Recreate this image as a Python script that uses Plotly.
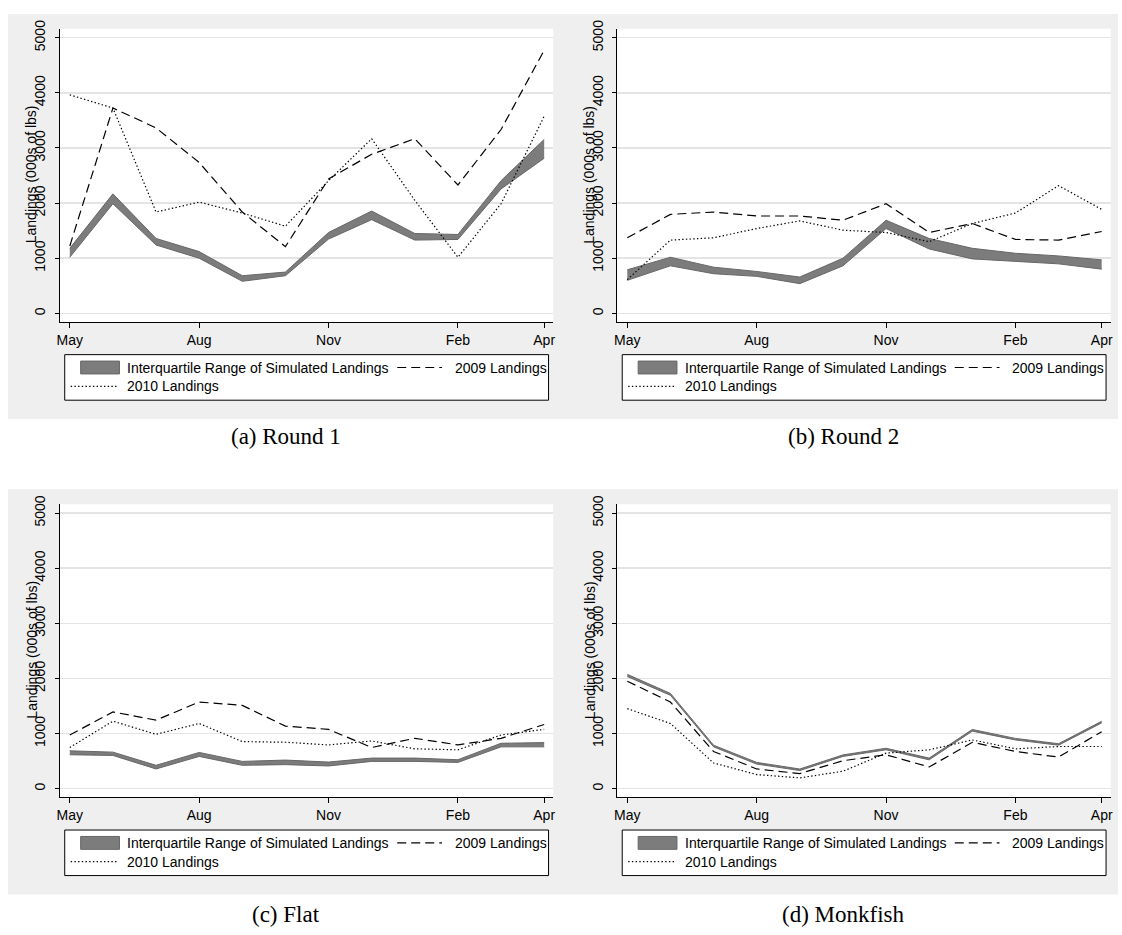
import plotly.graph_objects as go

W, H = 1122, 935

months = ["May", "Jun", "Jul", "Aug", "Sep", "Oct", "Nov", "Dec", "Jan", "Feb", "Mar", "Apr"]
tick_months = ["May", "Aug", "Nov", "Feb", "Apr"]
y_ticks = [0, 1000, 2000, 3000, 4000, 5000]

# (a) Round 1
iqr_hi_a = [1180, 2168, 1359, 1120, 683, 749, 1467, 1856, 1449, 1431, 2407, 3156]
iqr_lo_a = [1018, 1988, 1240, 1000, 581, 683, 1347, 1700, 1329, 1341, 2257, 2814]
l2009_a = [1222, 3725, 3365, 2737, 1838, 1210, 2437, 2886, 3168, 2329, 3335, 4772]
l2010_a = [3964, 3725, 1838, 2018, 1820, 1581, 2407, 3168, 2050, 1018, 1988, 3575]

# (b) Round 2
iqr_hi_b = [790, 1018, 838, 760, 659, 1000, 1689, 1359, 1180, 1090, 1042, 970]
iqr_lo_b = [599, 862, 719, 671, 539, 862, 1539, 1168, 988, 940, 898, 802]
l2009_b = [1371, 1796, 1838, 1766, 1766, 1689, 1988, 1467, 1629, 1341, 1329, 1485]
l2010_b = [611, 1329, 1371, 1539, 1677, 1509, 1467, 1300, 1629, 1820, 2317, 1886]

# (c) Flat
iqr_hi_c = [688, 664, 425, 658, 496, 520, 484, 556, 556, 526, 825, 837]
iqr_lo_c = [616, 604, 359, 586, 425, 437, 413, 496, 496, 478, 760, 760]
l2009_c = [975, 1394, 1244, 1573, 1513, 1136, 1077, 748, 915, 795, 915, 1166]
l2010_c = [748, 1226, 987, 1184, 855, 843, 795, 867, 724, 706, 975, 1077]

# (d) Monkfish
iqr_hi_d = [2075, 1730, 790, 478, 358, 614, 734, 556, 1075, 913, 817, 1224]
iqr_lo_d = [2035, 1695, 760, 448, 330, 586, 706, 524, 1045, 885, 790, 1194]
l2009_d = [1950, 1573, 676, 359, 275, 508, 616, 395, 843, 676, 574, 1035]
l2010_d = [1453, 1184, 467, 257, 197, 317, 646, 706, 885, 724, 766, 766]

captions = ["(a) Round 1", "(b) Round 2", "(c) Flat", "(d) Monkfish"]
legend_labels = ["Interquartile Range of Simulated Landings", "2009 Landings", "2010 Landings"]
y_title = "Landings (000s of lbs)"

panels = [
    (iqr_hi_a, iqr_lo_a, l2009_a, l2010_a),
    (iqr_hi_b, iqr_lo_b, l2009_b, l2010_b),
    (iqr_hi_c, iqr_lo_c, l2009_c, l2010_c),
    (iqr_hi_d, iqr_lo_d, l2009_d, l2010_d),
]

SANS = "Liberation Sans, Arial, sans-serif"
SERIF = "Liberation Serif, Times New Roman, serif"
GRAY_BG = "#efefef"
BAND_FILL = "#7c7c7c"
BAND_LINE = "#676767"
DASH = "9px,5px"
DOT = "1.4px,2.3px"
LW = 1.2


def px(x):
    return x / W


def py(y):
    return 1 - y / H


offsets = [(0, 0), (560, 0), (0, 480), (560, 480)]
x_idx = list(range(len(months)))

fig = go.Figure()
shapes = []
annotations = []

# row backgrounds
for oy in (0, 480):
    shapes.append(dict(type="rect", xref="paper", yref="paper", layer="below",
                       x0=px(5), x1=px(1120), y0=py(5 + oy), y1=py(414 + oy),
                       fillcolor=GRAY_BG, line=dict(width=0)))

layout_axes = {}
for i, ((hi, lo, l09, l10), (ox, oy)) in enumerate(zip(panels, offsets)):
    n = i + 1
    xa = "x" if n == 1 else f"x{n}"
    ya = "y" if n == 1 else f"y{n}"
    L, R = 57 + ox, 552.7 + ox
    T, B = 20 + oy, 316 + oy
    # white plot area
    shapes.append(dict(type="rect", xref="paper", yref="paper", layer="below",
                       x0=px(L), x1=px(R), y0=py(B), y1=py(T),
                       fillcolor="white", line=dict(width=0)))

    fig.add_trace(go.Scatter(x=x_idx, y=hi, xaxis=xa, yaxis=ya, mode="lines",
                             line=dict(color=BAND_LINE, width=1), showlegend=False,
                             hoverinfo="skip"))
    fig.add_trace(go.Scatter(x=x_idx, y=lo, xaxis=xa, yaxis=ya, mode="lines",
                             fill="tonexty", fillcolor=BAND_FILL,
                             line=dict(color=BAND_LINE, width=1), showlegend=False,
                             name=legend_labels[0]))
    fig.add_trace(go.Scatter(x=x_idx, y=l09, xaxis=xa, yaxis=ya, mode="lines",
                             line=dict(color="black", width=LW, dash=DASH),
                             showlegend=False, name=legend_labels[1]))
    fig.add_trace(go.Scatter(x=x_idx, y=l10, xaxis=xa, yaxis=ya, mode="lines",
                             line=dict(color="black", width=LW, dash=DOT),
                             showlegend=False, name=legend_labels[2]))

    xkey = "xaxis" if n == 1 else f"xaxis{n}"
    ykey = "yaxis" if n == 1 else f"yaxis{n}"
    layout_axes[xkey] = dict(
        domain=[px(L), px(R)], anchor=ya, range=[-0.233, 11.21],
        tickmode="array", tickvals=[months.index(m) for m in tick_months], ticktext=tick_months,
        ticks="outside", ticklen=5, tickcolor="black", tickwidth=1,
        showline=True, linecolor="black", linewidth=1,
        showgrid=False, zeroline=False,
        tickfont=dict(family=SANS, size=14, color="black"),
    )
    layout_axes[ykey] = dict(
        domain=[py(B), py(T)], anchor=xa, range=[-156, 5162],
        tickmode="array", tickvals=y_ticks, ticktext=[str(v) for v in y_ticks],
        tickangle=-90, ticks="outside", ticklen=4, tickcolor="black", tickwidth=1,
        showline=True, linecolor="black", linewidth=1,
        showgrid=True, gridcolor="#e4e4e4", gridwidth=1.5, zeroline=False,
        tickfont=dict(family=SANS, size=14, color="black"),
        ticklabelstandoff=4,
    )

    # y-axis title (overlapping tick labels as in reference)
    annotations.append(dict(xref="paper", yref="paper", x=px(29 + ox), y=py(167 + oy),
                            text=y_title, textangle=-90, showarrow=False,
                            xanchor="center", yanchor="middle",
                            font=dict(family=SANS, size=14, color="black")))

    # legend box
    lx0, lx1 = 62 + ox, 548 + ox
    ly0, ly1 = 349 + oy, 395 + oy
    r1, r2 = 362 + oy, 381 + oy
    shapes.append(dict(type="rect", xref="paper", yref="paper", layer="above",
                       x0=px(lx0), x1=px(lx1), y0=py(ly1), y1=py(ly0),
                       fillcolor="white", line=dict(color="black", width=1)))
    shapes.append(dict(type="rect", xref="paper", yref="paper", layer="above",
                       x0=px(78 + ox), x1=px(117 + ox), y0=py(r1 + 6.5), y1=py(r1 - 6.5),
                       fillcolor=BAND_FILL, line=dict(color=BAND_LINE, width=1)))
    shapes.append(dict(type="line", xref="paper", yref="paper", layer="above",
                       x0=px(396 + ox), x1=px(441 + ox), y0=py(r1), y1=py(r1),
                       line=dict(color="black", width=LW, dash=DASH)))
    shapes.append(dict(type="line", xref="paper", yref="paper", layer="above",
                       x0=px(68 + ox), x1=px(116 + ox), y0=py(r2), y1=py(r2),
                       line=dict(color="black", width=LW, dash=DOT)))
    for txt, tx, ty in ((legend_labels[0], 123, r1), (legend_labels[1], 452, r1),
                        (legend_labels[2], 123, r2)):
        annotations.append(dict(xref="paper", yref="paper", x=px(tx + ox), y=py(ty),
                                text=txt, showarrow=False, xanchor="left", yanchor="middle",
                                font=dict(family=SANS, size=14, color="black")))

    # caption
    cap_y = 432 if oy == 0 else 914
    annotations.append(dict(xref="paper", yref="paper", x=px(284 + ox), y=py(cap_y),
                            text=captions[i], showarrow=False, xanchor="center",
                            yanchor="middle",
                            font=dict(family=SERIF, size=23, color="black")))

fig.update_layout(
    width=W, height=H, margin=dict(l=0, r=0, t=0, b=0),
    paper_bgcolor="white", plot_bgcolor="white",
    showlegend=False, shapes=shapes, annotations=annotations,
    hovermode=False,
    **layout_axes,
)

fig.write_html(
    "out.html",
    config={"displayModeBar": False, "staticPlot": True},
    post_script="document.body.style.margin='0';document.body.style.overflow='hidden';",
)
